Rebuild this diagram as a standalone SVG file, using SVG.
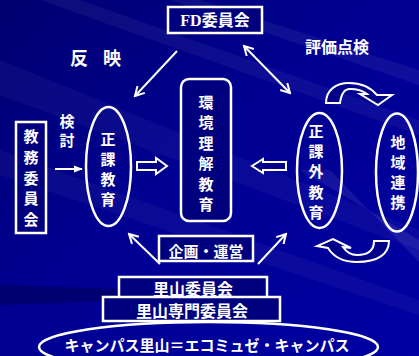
<svg xmlns="http://www.w3.org/2000/svg" width="419" height="356" viewBox="0 0 419 356">
<defs>
<linearGradient id="bg" x1="0" y1="0" x2="1" y2="1">
<stop offset="0" stop-color="#000070"/>
<stop offset="0.45" stop-color="#000092"/>
<stop offset="1" stop-color="#0000a3"/>
</linearGradient>
<marker id="ah" viewBox="0 0 12 12" refX="10" refY="6" markerWidth="12" markerHeight="12" markerUnits="userSpaceOnUse" orient="auto-start-reverse">
<path d="M1,1 L10,6 L1,11" fill="none" stroke="#fff" stroke-width="2"/>
</marker>
<marker id="ahf" viewBox="0 0 10 10" refX="9" refY="5" markerWidth="9" markerHeight="9" markerUnits="userSpaceOnUse" orient="auto">
<path d="M0,1 L10,5 L0,9 Z" fill="#fff"/>
</marker>
<style>
.t{fill:#fff;font-family:"Noto Sans CJK JP","Noto Sans CJK SC",sans-serif;font-weight:bold;}
.box{fill:#00007e;stroke:#fff;stroke-width:2.5;}
.ol{fill:none;stroke:#fff;stroke-width:2.5;}
.ln{fill:none;stroke:#fff;stroke-width:2;}
.blk{fill:#000088;stroke:#fff;stroke-width:2;stroke-linejoin:miter;}
</style>
</defs>
<rect width="419" height="356" fill="url(#bg)"/>
<g id="streaks" fill="#ffffff">
<polygon points="0,60 419,230 419,250 0,95" opacity="0.04"/>
<polygon points="80,0 419,120 419,135 40,0" opacity="0.05"/>
<polygon points="200,0 419,70 419,85 170,0" opacity="0.06"/>
<polygon points="0,150 419,300 419,315 0,175" opacity="0.04"/>
<polygon points="300,170 419,240 419,262 330,170" opacity="0.08"/>
<polygon points="0,285 150,290 150,300 0,305" fill="#000050" opacity="0.5"/>
</g>

<g id="connectors">
<line class="ln" x1="177" y1="51" x2="135" y2="96" marker-end="url(#ah)"/>
<line class="ln" x1="244" y1="46" x2="290" y2="93" marker-start="url(#ah)" marker-end="url(#ah)"/>
<line class="ln" x1="55" y1="169" x2="82" y2="169" marker-end="url(#ahf)"/>
<line class="ln" x1="160" y1="264" x2="129" y2="234" marker-end="url(#ah)"/>
<line class="ln" x1="258" y1="264" x2="286" y2="234" marker-end="url(#ah)"/>
<path class="blk" d="M137,162 L156,162 L156,158 L167,166 L156,174 L156,170 L137,170 Z"/>
<path class="blk" d="M286,162 L263,162 L263,159 L252,166 L263,173 L263,170 L286,170 Z"/>
<path class="blk" d="M326,103 C326,90 336,83 349,83 C362,83 371,88 377,95 L392,95 L378,105 L360,94 L367,94 C362,90 356,89 350,89 C344,89 341,95 340,103 Z"/>
<path class="blk" d="M389,241 C389,254 378,262 357,262 C343,262 333,256 328,248 L317,246 L333,239 L351,248 L343,247 C347,253 351,255 357,255 C368,255 374,250 374,241 Z"/>
</g>

<g id="fd">
<rect class="box" x="168" y="7" width="94" height="26"/>
<text x="215" y="26" text-anchor="middle" font-size="16"><tspan style="fill:#fff;font-family:'Liberation Serif',serif;font-weight:bold;">FD</tspan><tspan class="t">委員会</tspan></text>
</g>

<g id="hanei">
<text class="t" x="79" y="65" font-size="18" text-anchor="middle">反</text>
<text class="t" x="112" y="65" font-size="18" text-anchor="middle">映</text>
</g>

<g id="hyoka">
<text class="t" x="337" y="53" font-size="16" text-anchor="middle">評価点検</text>
</g>

<g id="kyomu">
<rect class="box" x="16" y="122" width="30" height="111"/>
<text class="t" font-size="15" text-anchor="middle"><tspan x="31" y="142">教</tspan><tspan x="31" y="163">務</tspan><tspan x="31" y="184">委</tspan><tspan x="31" y="204">員</tspan><tspan x="31" y="225">会</tspan></text>
</g>

<g id="kento">
<text class="t" font-size="15" text-anchor="middle"><tspan x="67" y="127">検</tspan><tspan x="67" y="146">討</tspan></text>
</g>

<g id="seika">
<ellipse class="ol" cx="108.5" cy="166.5" rx="22.5" ry="59.5"/>
<text class="t" font-size="15" text-anchor="middle"><tspan x="108" y="145">正</tspan><tspan x="108" y="165">課</tspan><tspan x="108" y="185">教</tspan><tspan x="108" y="205">育</tspan></text>
</g>

<g id="kankyo">
<rect class="box" x="181" y="79" width="50" height="142" rx="8"/>
<text class="t" font-size="15" text-anchor="middle"><tspan x="206" y="108">環</tspan><tspan x="206" y="128">境</tspan><tspan x="206" y="149">理</tspan><tspan x="206" y="169">解</tspan><tspan x="206" y="190">教</tspan><tspan x="206" y="210">育</tspan></text>
</g>

<g id="seikagai">
<ellipse class="ol" cx="319.5" cy="170.5" rx="22.5" ry="57.5"/>
<text class="t" font-size="15" text-anchor="middle"><tspan x="316" y="137">正</tspan><tspan x="316" y="157">課</tspan><tspan x="316" y="177">外</tspan><tspan x="316" y="198">教</tspan><tspan x="316" y="218">育</tspan></text>
</g>

<g id="chiiki">
<ellipse class="ol" cx="397" cy="172.5" rx="21" ry="59"/>
<text class="t" font-size="15" text-anchor="middle"><tspan x="398" y="148">地</tspan><tspan x="398" y="168">域</tspan><tspan x="398" y="188">連</tspan><tspan x="398" y="208">携</tspan></text>
</g>

<g id="kikaku">
<rect class="box" x="159" y="236" width="94" height="25"/>
<text class="t" x="206" y="257" font-size="15" text-anchor="middle">企画・運営</text>
</g>

<g id="campus">
<ellipse class="ol" cx="208.5" cy="347" rx="169.5" ry="25"/>
<text class="t" x="207" y="351" font-size="15" text-anchor="middle">キャンパス里山＝エコミュゼ・キャンパス</text>
</g>

<g id="satoyama">
<rect class="box" x="119" y="277" width="148" height="26"/>
<text class="t" x="193" y="295" font-size="16" text-anchor="middle">里山委員会</text>
</g>

<g id="senmon">
<rect class="box" x="103" y="297" width="177" height="24"/>
<text class="t" x="192" y="317" font-size="16" text-anchor="middle">里山専門委員会</text>
</g>
</svg>
